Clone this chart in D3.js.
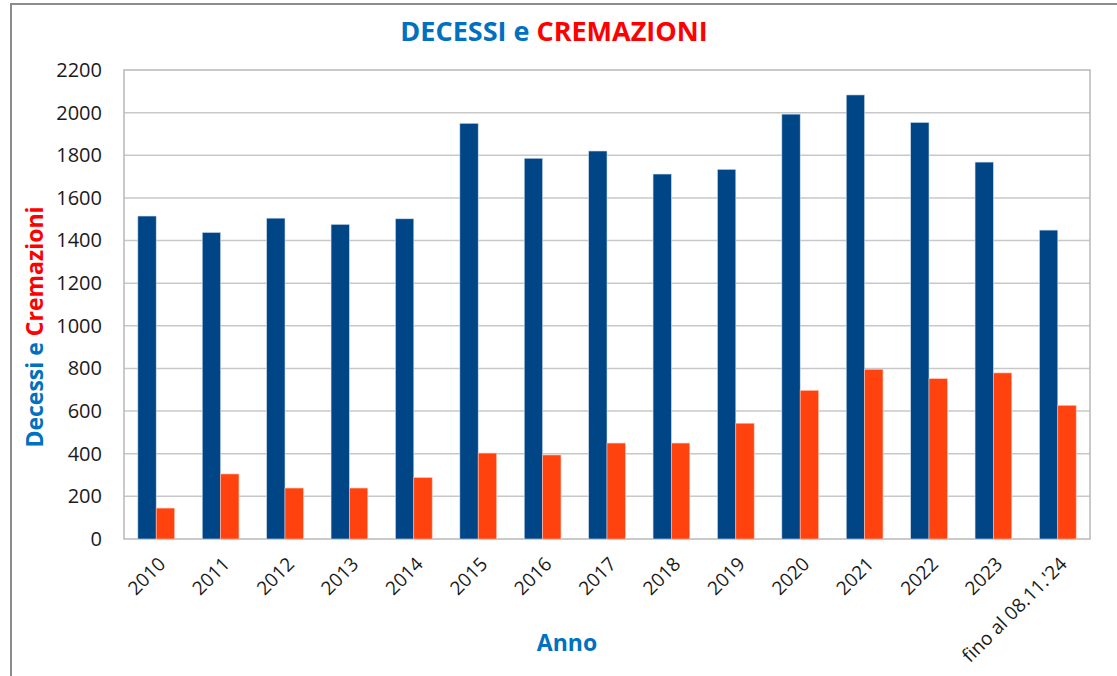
<!DOCTYPE html>
<html>
<head>
<meta charset="utf-8">
<script src="https://cdn.jsdelivr.net/npm/d3@7"></script>
<style>
html,body{margin:0;padding:0;background:#fff;}
svg{display:block;}
text{font-family:"Open Sans","Noto Sans",sans-serif;}
</style>
</head>
<body>
<svg id="chart" width="1117" height="676"></svg>
<script>
const categories = ["2010","2011","2012","2013","2014","2015","2016","2017","2018","2019","2020","2021","2022","2023","fino al 08.11.'24"];
const decessi = [1515,1438,1505,1476,1502,1950,1786,1820,1712,1734,1993,2083,1954,1768,1449];
const cremazioni = [145,305,239,239,288,403,394,450,450,543,697,796,752,779,627];
const yTicks = [0,200,400,600,800,1000,1200,1400,1600,1800,2000,2200];

const svg = d3.select("#chart");
const W = 1117, H = 676;
const m = {left:124, right:1090, top:70, bottom:539};

// outer frame
svg.append("path")
  .attr("d", `M11,${H} L11,4 L${W},4`)
  .attr("fill","none").attr("stroke","#8c8c8c").attr("stroke-width",2);

const x = d3.scaleBand().domain(categories).range([m.left, m.right]).paddingInner(0.43).paddingOuter(0.215);
const y = d3.scaleLinear().domain([0,2200]).range([m.bottom, m.top]);

// gridlines
svg.append("g").selectAll("line").data(yTicks.slice(1,-1)).join("line")
  .attr("x1", m.left).attr("x2", m.right)
  .attr("y1", d=>y(d)).attr("y2", d=>y(d))
  .attr("stroke","#c8c8c8").attr("stroke-width",1.5);

// plot border
svg.append("rect")
  .attr("x", m.left).attr("y", m.top)
  .attr("width", m.right-m.left).attr("height", m.bottom-m.top)
  .attr("fill","none").attr("stroke","#b8b8b8").attr("stroke-width",1.5);

const bw = x.bandwidth()/2;
svg.append("g").selectAll("rect").data(decessi).join("rect")
  .attr("x",(d,i)=>x(categories[i]))
  .attr("y", d=>y(d)).attr("width", bw).attr("height", d=>y(0)-y(d))
  .attr("fill","#004586").attr("stroke","#cfdcec").attr("stroke-width",0.6);
svg.append("g").selectAll("rect").data(cremazioni).join("rect")
  .attr("x",(d,i)=>x(categories[i])+bw)
  .attr("y", d=>y(d)).attr("width", bw).attr("height", d=>y(0)-y(d))
  .attr("fill","#ff420e").attr("stroke","#ffc0b0").attr("stroke-width",0.6);

// y axis labels
const yAxis = d3.axisLeft(y).tickValues(yTicks).tickFormat(d3.format("d")).tickSize(0).tickPadding(0);
const gy = svg.append("g").attr("transform", `translate(102,0)`).call(yAxis);
gy.select(".domain").remove();
gy.selectAll("text").attr("font-size",20).attr("fill","#1a1a1a")
  .attr("font-family","'Open Sans','Noto Sans',sans-serif");

// x axis labels
const xAxis = d3.axisBottom(x).tickSize(0).tickPadding(0);
const gx = svg.append("g").attr("transform", `translate(0,${m.bottom})`).call(xAxis);
gx.select(".domain").remove();
gx.selectAll(".tick").attr("transform", d=>`translate(${x(d)+x.bandwidth()/2+1},17)`);
gx.selectAll("text").attr("font-size",19).attr("fill","#1a1a1a")
  .attr("font-family","'Open Sans','Noto Sans',sans-serif")
  .attr("text-anchor","end").attr("dy","0.7em").attr("y",0)
  .attr("transform","rotate(-45)");

// title
const t = svg.append("text").attr("x",554).attr("y",41).attr("text-anchor","middle")
  .attr("font-size",27).attr("font-weight","bold");
t.append("tspan").attr("fill","#0070c0").text("DECESSI e ");
t.append("tspan").attr("fill","#ff0000").text("CREMAZIONI");

// y title
const yt = svg.append("text").attr("transform","translate(43,327) rotate(-90)")
  .attr("text-anchor","middle").attr("font-size",23).attr("font-weight","bold");
yt.append("tspan").attr("fill","#0070c0").text("Decessi e ");
yt.append("tspan").attr("fill","#ff0000").text("Cremazioni");

// x title
svg.append("text").attr("x",567).attr("y",651).attr("text-anchor","middle")
  .attr("font-size",23).attr("font-weight","bold").attr("fill","#0070c0").text("Anno");
</script>
</body>
</html>
